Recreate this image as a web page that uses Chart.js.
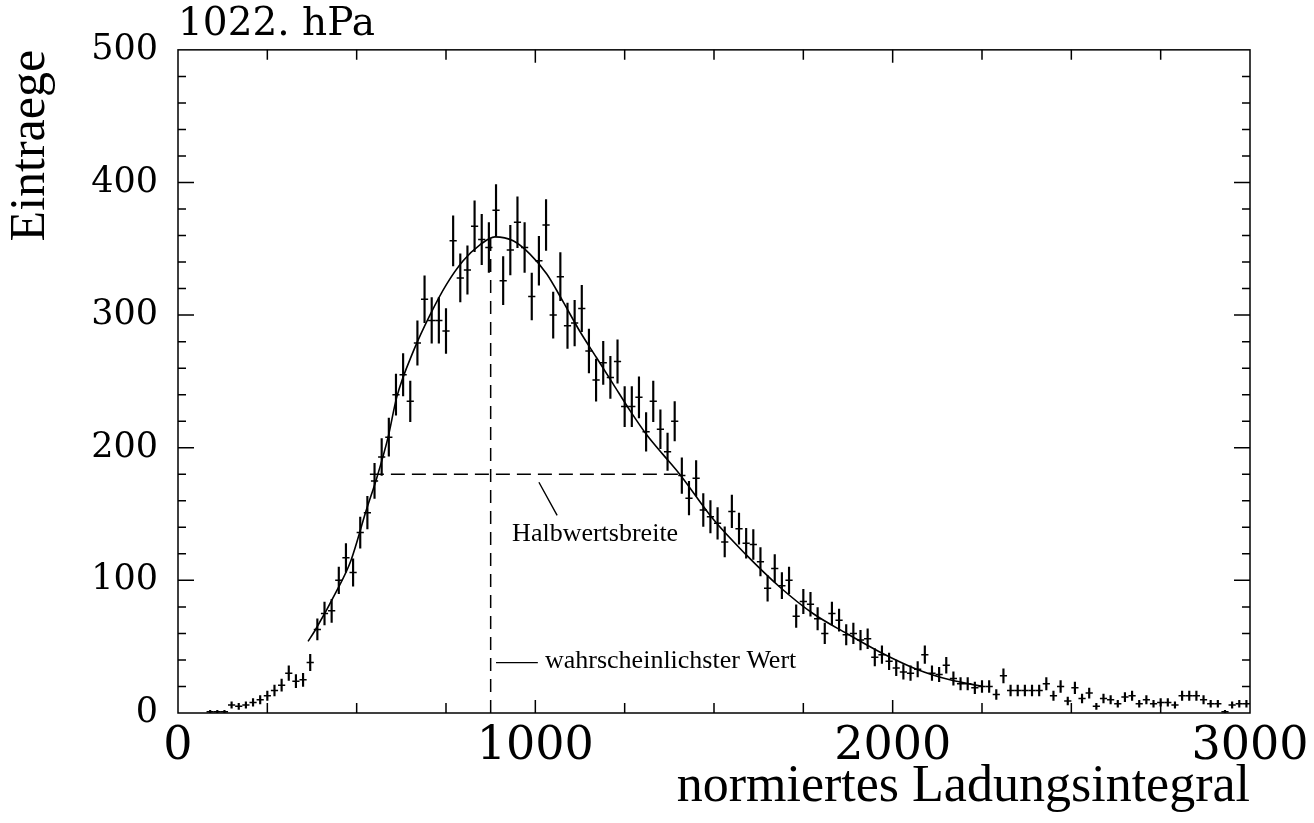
<!DOCTYPE html>
<html>
<head>
<meta charset="utf-8">
<script src="https://cdn.jsdelivr.net/npm/chart.js@4.4.1/dist/chart.umd.min.js"></script>
<style>
html,body{margin:0;padding:0;background:#fff}
#wrap{width:1314px;height:823px}
</style>
</head>
<body>
<div id="wrap"><canvas id="chart"></canvas></div>
<script>
// bin centres of the histogram (normiertes Ladungsintegral)
var bin_x = [
    90,110,130,150,170,190,
    210,230,250,270,290,310,330,350,370,390,
    410,430,450,470,490,510,530,550,570,590,
    610,630,650,670,690,710,730,750,770,790,
    810,830,850,870,890,910,930,950,970,990,
    1010,1030,1050,1070,1090,1110,1130,1150,1170,1190,
    1210,1230,1250,1270,1290,1310,1330,1350,1370,1390,
    1410,1430,1450,1470,1490,1510,1530,1550,1570,1590,
    1610,1630,1650,1670,1690,1710,1730,1750,1770,1790,
    1810,1830,1850,1870,1890,1910,1930,1950,1970,1990,
    2010,2030,2050,2070,2090,2110,2130,2150,2170,2190,
    2210,2230,2250,2270,2290,2310,2330,2350,2370,2390,
    2410,2430,2450,2470,2490,2510,2530,2550,2570,2590,
    2610,2630,2650,2670,2690,2710,2730,2750,2770,2790,
    2810,2830,2850,2870,2890,2910,2930,2950,2970,2990
]
// Eintraege per bin
var entries = [
    1,1,1,6,5,6,
    8,10,13,17,21,30,24,25,38,63,
    75,77,100,117,106,136,151,175,193,208,
    240,255,235,279,312,296,296,288,356,328,
    334,367,357,351,379,326,349,370,351,314,
    341,368,300,329,292,294,305,273,251,264,
    253,265,231,231,238,212,235,214,197,220,
    179,162,177,153,148,143,129,152,139,128,
    127,114,94,109,96,100,73,84,82,71,
    60,75,70,59,60,55,56,42,44,39,
    34,31,30,33,44,30,29,36,26,22,
    22,19,20,20,14,28,17,17,17,17,
    17,22,13,20,9,19,11,15,5,11,
    10,7,12,13,7,10,7,8,8,6,
    13,13,13,10,7,7,1,6,7,7
]
// fitted curve
var fit_x = [364,383,444,484,527,556,588,612,659,705,751,798,845,887,938,985,1032,1078,1124,1171,1218,1265,1311,1357,1404,1498,1591,1684,1777,1871,1964,2067,2160,2253]
var fit_y = [54,62,92,115,153,177,208,238,273,300,323,341,353,359,356,346,331,310,288,268,248,228,210,195,180,146,119,95,75,60,46,33,25,20]
// Halbwertsbreite (dashed, horizontal) and wahrscheinlichster Wert (dashed, vertical)
var half_x = [537,1413]
var half_y = [180,180]
var peak_x = [875,875]
var peak_y = [0,358]

var annot = {
    half_pointer: [[1010,174],[1061,149]],
    peak_pointer: [[890,38],[1007,38]],
    half_text: {x: 935, y: 130, text: 'Halbwertsbreite'},
    peak_text: {x: 1027, y: 34, text: 'wahrscheinlichster Wert'}
}

function pts(xs, ys){
    return xs.map((x,i)=>({x: x, y: ys[i]}))
}

var errbars = entries.map((v,i)=>({x: bin_x[i], y: [Math.max(0, v-Math.sqrt(v)), v+Math.sqrt(v)]}))

var frame_plugin = {
    id: 'frame',
    afterDatasetsDraw(chart){
        const ctx = chart.ctx
        const a = chart.chartArea
        const xs = chart.scales.x, ys = chart.scales.y
        ctx.save()
        ctx.strokeStyle = '#000'
        ctx.lineWidth = 1.5
        ctx.strokeRect(a.left, a.top, a.right-a.left, a.bottom-a.top)
        ctx.beginPath()
        ys.ticks.forEach(t=>{
            if(t.value<=0 || t.value>=500) return
            let py = ys.getPixelForValue(t.value)
            let len = t.value%100===0 ? 16 : 8
            ctx.moveTo(a.left, py); ctx.lineTo(a.left+len, py)
            ctx.moveTo(a.right, py); ctx.lineTo(a.right-len, py)
        })
        xs.ticks.forEach(t=>{
            if(t.value<=0 || t.value>=3000) return
            let px = xs.getPixelForValue(t.value)
            let len = t.value%1000===0 ? 13 : 10
            ctx.moveTo(px, a.bottom); ctx.lineTo(px, a.bottom-len)
            ctx.moveTo(px, a.top); ctx.lineTo(px, a.top+len)
        })
        ctx.stroke()

        // annotation lines
        ctx.lineWidth = 1.4
        ctx.beginPath()
        ;[annot.half_pointer, annot.peak_pointer].forEach(l=>{
            ctx.moveTo(xs.getPixelForValue(l[0][0]), ys.getPixelForValue(l[0][1]))
            ctx.lineTo(xs.getPixelForValue(l[1][0]), ys.getPixelForValue(l[1][1]))
        })
        ctx.stroke()

        ctx.fillStyle = '#000'
        ctx.font = '26px "Liberation Serif"'
        ctx.textBaseline = 'alphabetic'
        ctx.textAlign = 'left'
        ;[annot.half_text, annot.peak_text].forEach(t=>{
            ctx.fillText(t.text, xs.getPixelForValue(t.x), ys.getPixelForValue(t.y))
        })
        ctx.restore()
    }
}

var ctx = document.getElementById('chart').getContext('2d')
var chart = new Chart(ctx, {
    type: 'line',
    data: {
        datasets: [
            {
                type: 'bar',
                data: errbars,
                backgroundColor: '#000',
                borderWidth: 0,
                barThickness: 1.5,
                grouped: false
            },
            {
                type: 'scatter',
                data: pts(bin_x, entries),
                pointStyle: 'line',
                pointRadius: 3.6,
                borderColor: '#000',
                borderWidth: 1.5,
                showLine: false
            },
            {
                type: 'line',
                data: pts(fit_x, fit_y),
                borderColor: '#000',
                borderWidth: 1.6,
                pointRadius: 0,
                tension: 0.4,
                cubicInterpolationMode: 'monotone',
                fill: false
            },
            {
                type: 'line',
                data: pts(half_x, half_y),
                borderColor: '#000',
                borderWidth: 1.5,
                borderDash: [14, 7],
                pointRadius: 0,
                fill: false
            },
            {
                type: 'line',
                data: pts(peak_x, peak_y),
                borderColor: '#000',
                borderWidth: 1.5,
                borderDash: [13, 8],
                pointRadius: 0,
                fill: false
            }
        ]
    },
    options: {
        responsive: true,
        maintainAspectRatio: false,
        animation: false,
        layout: { padding: {left: 0, right: 64, top: 0, bottom: 0} },
        plugins: {
            legend: { display: false },
            tooltip: { enabled: false },
            title: {
                display: true,
                text: '1022. hPa',
                align: 'start',
                fullSize: false,
                color: '#000',
                font: { family: 'DejaVu Serif', size: 39, weight: 'normal', lineHeight: 1.15 },
                padding: { top: 2, bottom: 3 }
            }
        },
        scales: {
            x: {
                type: 'linear',
                min: 0,
                max: 3000,
                offset: false,
                grid: { display: false, offset: false },
                border: { display: false },
                ticks: {
                    stepSize: 250,
                    autoSkip: false,
                    maxRotation: 0,
                    minRotation: 0,
                    padding: -2,
                    color: '#000',
                    font: { family: 'DejaVu Serif', size: 46 },
                    callback: v => v%1000===0 ? v : ''
                },
                title: {
                    display: true,
                    text: 'normiertes Ladungsintegral',
                    align: 'end',
                    color: '#000',
                    font: { family: 'Liberation Serif', size: 52, lineHeight: 1 },
                    padding: { top: 0, bottom: 10 }
                },
                afterFit: s => { s.height = 110 }
            },
            y: {
                type: 'linear',
                min: 0,
                max: 500,
                grid: { display: false },
                border: { display: false },
                ticks: {
                    stepSize: 20,
                    autoSkip: false,
                    padding: 12,
                    color: '#000',
                    font: { family: 'DejaVu Serif', size: 35 },
                    callback: v => v%100===0 ? v : ''
                },
                title: {
                    display: true,
                    text: 'Eintraege',
                    align: 'end',
                    color: '#000',
                    font: { family: 'Liberation Serif', size: 50, lineHeight: 1 },
                    padding: { top: 6, bottom: 0 }
                },
                afterFit: s => { s.width = 178 }
            }
        }
    },
    plugins: [frame_plugin]
})
</script>
</body>
</html>
